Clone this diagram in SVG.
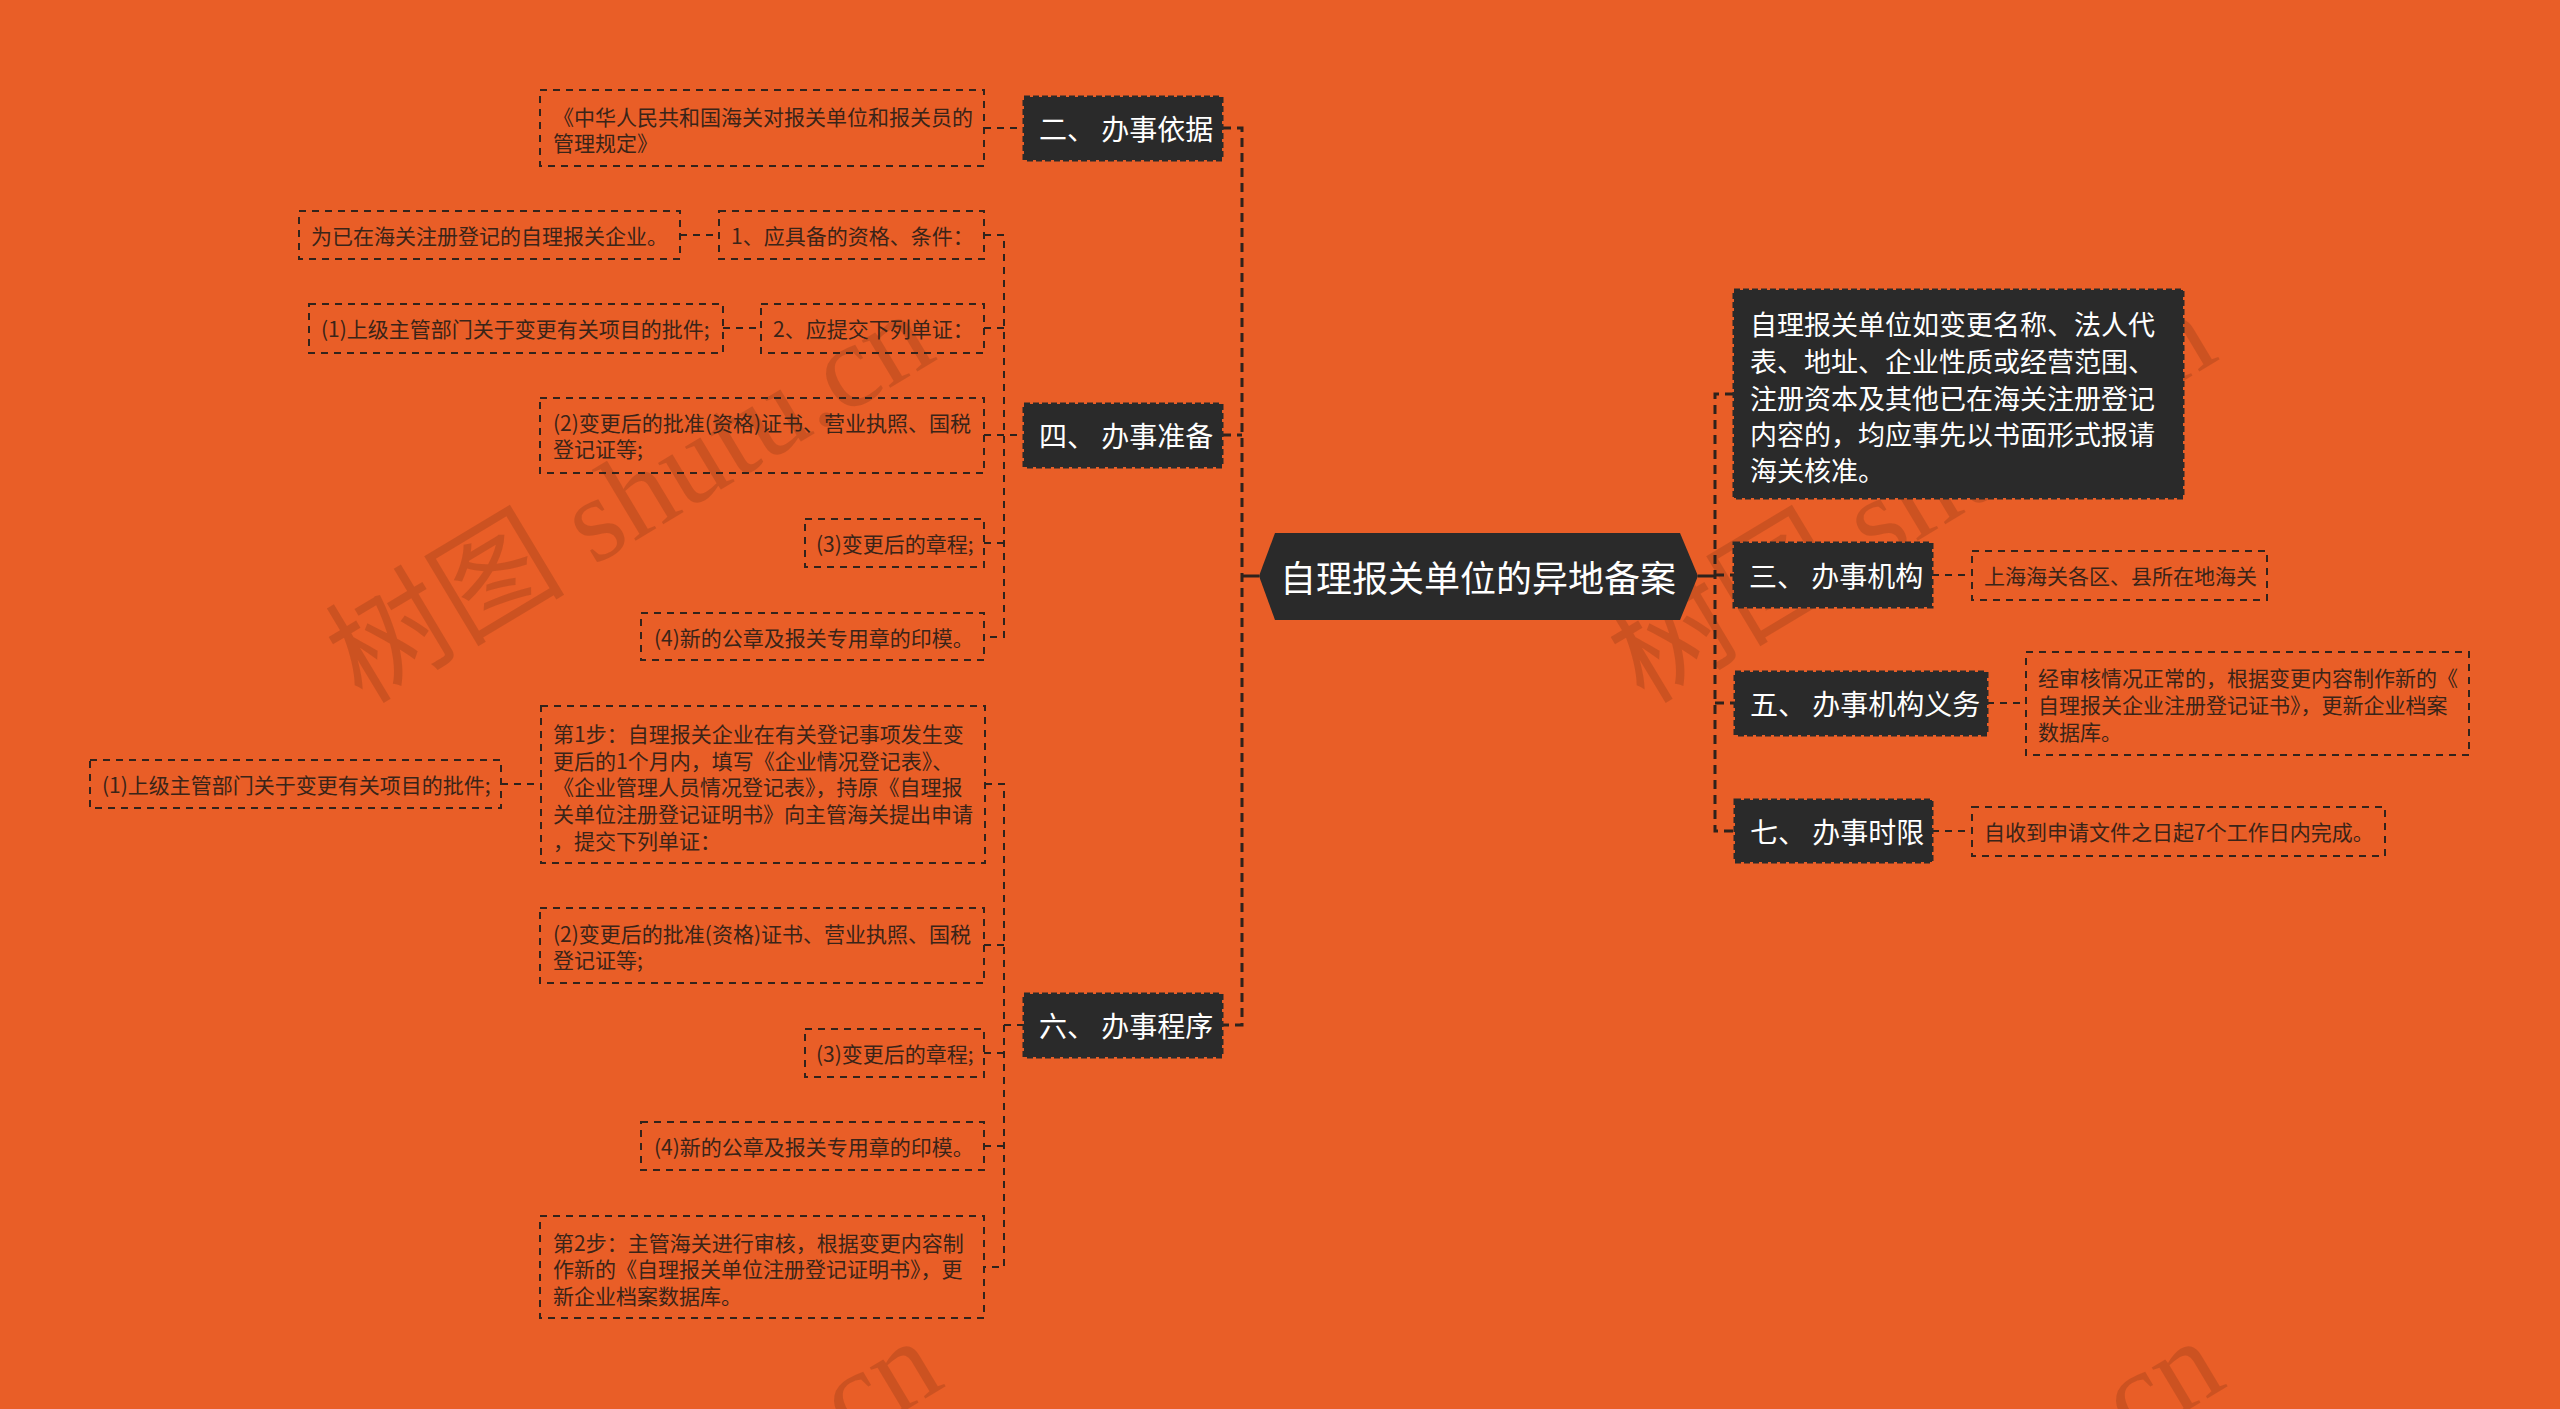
<svg xmlns="http://www.w3.org/2000/svg" width="2560" height="1409" viewBox="0 0 2560 1409">
<style>
.leaf{fill:none;stroke:#33231b;stroke-width:2;stroke-dasharray:7 6}
.node{fill:#2a2a2a;stroke:#2a2a2a;stroke-width:3;stroke-dasharray:6 3}
.lt{font-family:"Noto Sans CJK SC","Liberation Sans",sans-serif;font-size:21px;fill:#3a2418;dominant-baseline:central}
.nt{font-family:"Noto Sans CJK SC","Liberation Sans",sans-serif;font-size:28px;fill:#ffffff;dominant-baseline:central}
.ct{font-family:"Noto Sans CJK SC","Liberation Sans",sans-serif;font-size:36px;fill:#ffffff;dominant-baseline:central}
.bt{font-family:"Noto Sans CJK SC","Liberation Sans",sans-serif;font-size:27px;fill:#ffffff;dominant-baseline:central}
.wm{font-family:"Liberation Serif","Noto Sans CJK SC",serif;font-size:120px;fill:#7a3315;fill-opacity:0.26}
#connectors path{fill:none;stroke:#2e221c;stroke-width:2;stroke-dasharray:7 6}
#connectors path.main{stroke-width:3;stroke-dasharray:9 6}
#connectors path.solid{stroke-width:3;stroke-dasharray:none}
</style>
<rect x="0" y="0" width="2560" height="1409" fill="#E95E27"/>

<g id="watermark">
<text class="wm" x="362" y="705" transform="rotate(-31 362 705)">树图 shutu.cn</text>
<text class="wm" x="1644" y="705" transform="rotate(-31 1644 705)">树图 shutu.cn</text>
<text class="wm" x="370" y="1732" transform="rotate(-31 370 1732)">树图 shutu.cn</text>
<text class="wm" x="1652" y="1732" transform="rotate(-31 1652 1732)">树图 shutu.cn</text>
</g>

<g id="connectors">
<path class="main" d="M1222 128 H1242 V1025 H1222"/>
<path class="main" d="M1222 435 H1242"/>
<path class="solid" d="M1242 576 H1259"/>
<path class="main" d="M1734 394 H1715 V831 H1735"/>
<path class="main" d="M1715 575 H1734"/>
<path class="main" d="M1715 703 H1735"/>
<path class="solid" d="M1698 576 H1715"/>
<path d="M984 128 H1024"/>
<path d="M984 235 H1004 V637 H984"/>
<path d="M984 328 H1004"/>
<path d="M984 435 H1024"/>
<path d="M984 543 H1004"/>
<path d="M680 235 H719"/>
<path d="M723 328 H761"/>
<path d="M985 784 H1004 V1267 H984"/>
<path d="M984 945 H1004"/>
<path d="M1004 1025 H1024"/>
<path d="M984 1053 H1004"/>
<path d="M984 1146 H1004"/>
<path d="M501 784 H541"/>
<path d="M1932 575 H1972"/>
<path d="M1987 703 H2026"/>
<path d="M1932 831 H1972"/>
</g>

<g id="center">
<polygon points="1259,576 1275,533 1680,533 1698,576 1680,620 1275,620" fill="#2a2a2a"/>
<text class="ct" x="1478" y="576" text-anchor="middle">自理报关单位的异地备案</text>
</g>

<g id="n2">
<rect class="node" x="1024" y="97" width="198" height="63"/>
<text class="nt" x="1039" y="128">二、 办事依据</text>
</g>
<g id="n2-l1">
<rect class="leaf" x="540" y="90" width="444" height="76"/>
<text class="lt" x="553" y="116">《中华人民共和国海关对报关单位和报关员的</text>
<text class="lt" x="553" y="142">管理规定》</text>
</g>

<g id="n4">
<rect class="node" x="1024" y="404" width="198" height="63"/>
<text class="nt" x="1039" y="435">四、 办事准备</text>
</g>
<g id="n4-l1">
<rect class="leaf" x="719" y="211" width="265" height="48"/>
<text class="lt" x="731" y="235">1、应具备的资格、条件：</text>
</g>
<g id="n4-l1-a">
<rect class="leaf" x="299" y="211" width="381" height="48"/>
<text class="lt" x="311" y="235">为已在海关注册登记的自理报关企业。</text>
</g>
<g id="n4-l2">
<rect class="leaf" x="761" y="304" width="223" height="49"/>
<text class="lt" x="773" y="328">2、应提交下列单证：</text>
</g>
<g id="n4-l2-a">
<rect class="leaf" x="309" y="304" width="414" height="49"/>
<text class="lt" x="321" y="328">(1)上级主管部门关于变更有关项目的批件;</text>
</g>
<g id="n4-l3">
<rect class="leaf" x="540" y="398" width="444" height="75"/>
<text class="lt" x="553" y="422">(2)变更后的批准(资格)证书、营业执照、国税</text>
<text class="lt" x="553" y="448">登记证等;</text>
</g>
<g id="n4-l4">
<rect class="leaf" x="805" y="519" width="179" height="48"/>
<text class="lt" x="816" y="543">(3)变更后的章程;</text>
</g>
<g id="n4-l5">
<rect class="leaf" x="641" y="613" width="343" height="47"/>
<text class="lt" x="654" y="637">(4)新的公章及报关专用章的印模。</text>
</g>

<g id="n6">
<rect class="node" x="1024" y="994" width="198" height="63"/>
<text class="nt" x="1039" y="1025">六、 办事程序</text>
</g>
<g id="n6-l1">
<rect class="leaf" x="541" y="706" width="444" height="157"/>
<text class="lt" x="553" y="733">第1步：自理报关企业在有关登记事项发生变</text>
<text class="lt" x="553" y="760">更后的1个月内，填写《企业情况登记表》、</text>
<text class="lt" x="553" y="786">《企业管理人员情况登记表》，持原《自理报</text>
<text class="lt" x="553" y="813">关单位注册登记证明书》向主管海关提出申请</text>
<text class="lt" x="553" y="840">，提交下列单证：</text>
</g>
<g id="n6-l1-a">
<rect class="leaf" x="90" y="760" width="411" height="48"/>
<text class="lt" x="102" y="784">(1)上级主管部门关于变更有关项目的批件;</text>
</g>
<g id="n6-l2">
<rect class="leaf" x="540" y="908" width="444" height="75"/>
<text class="lt" x="553" y="933">(2)变更后的批准(资格)证书、营业执照、国税</text>
<text class="lt" x="553" y="959">登记证等;</text>
</g>
<g id="n6-l3">
<rect class="leaf" x="805" y="1029" width="179" height="48"/>
<text class="lt" x="816" y="1053">(3)变更后的章程;</text>
</g>
<g id="n6-l4">
<rect class="leaf" x="641" y="1122" width="343" height="48"/>
<text class="lt" x="654" y="1146">(4)新的公章及报关专用章的印模。</text>
</g>
<g id="n6-l5">
<rect class="leaf" x="540" y="1216" width="444" height="102"/>
<text class="lt" x="553" y="1242">第2步：主管海关进行审核，根据变更内容制</text>
<text class="lt" x="553" y="1268">作新的《自理报关单位注册登记证明书》，更</text>
<text class="lt" x="553" y="1295">新企业档案数据库。</text>
</g>

<g id="n1">
<rect class="node" x="1734" y="290" width="449" height="208"/>
<text class="bt" x="1750" y="323">自理报关单位如变更名称、法人代</text>
<text class="bt" x="1750" y="360">表、地址、企业性质或经营范围、</text>
<text class="bt" x="1750" y="397">注册资本及其他已在海关注册登记</text>
<text class="bt" x="1750" y="433">内容的，均应事先以书面形式报请</text>
<text class="bt" x="1750" y="469">海关核准。</text>
</g>

<g id="n3">
<rect class="node" x="1734" y="543" width="198" height="64"/>
<text class="nt" x="1749" y="575">三、 办事机构</text>
</g>
<g id="n3-l1">
<rect class="leaf" x="1972" y="551" width="295" height="49"/>
<text class="lt" x="1984" y="575">上海海关各区、县所在地海关</text>
</g>

<g id="n5">
<rect class="node" x="1735" y="672" width="252" height="63"/>
<text class="nt" x="1750" y="703">五、 办事机构义务</text>
</g>
<g id="n5-l1">
<rect class="leaf" x="2026" y="652" width="443" height="103"/>
<text class="lt" x="2038" y="677">经审核情况正常的，根据变更内容制作新的《</text>
<text class="lt" x="2038" y="704">自理报关企业注册登记证书》，更新企业档案</text>
<text class="lt" x="2038" y="731">数据库。</text>
</g>

<g id="n7">
<rect class="node" x="1735" y="800" width="197" height="62"/>
<text class="nt" x="1750" y="831">七、 办事时限</text>
</g>
<g id="n7-l1">
<rect class="leaf" x="1972" y="807" width="413" height="49"/>
<text class="lt" x="1984" y="831">自收到申请文件之日起7个工作日内完成。</text>
</g>
</svg>
